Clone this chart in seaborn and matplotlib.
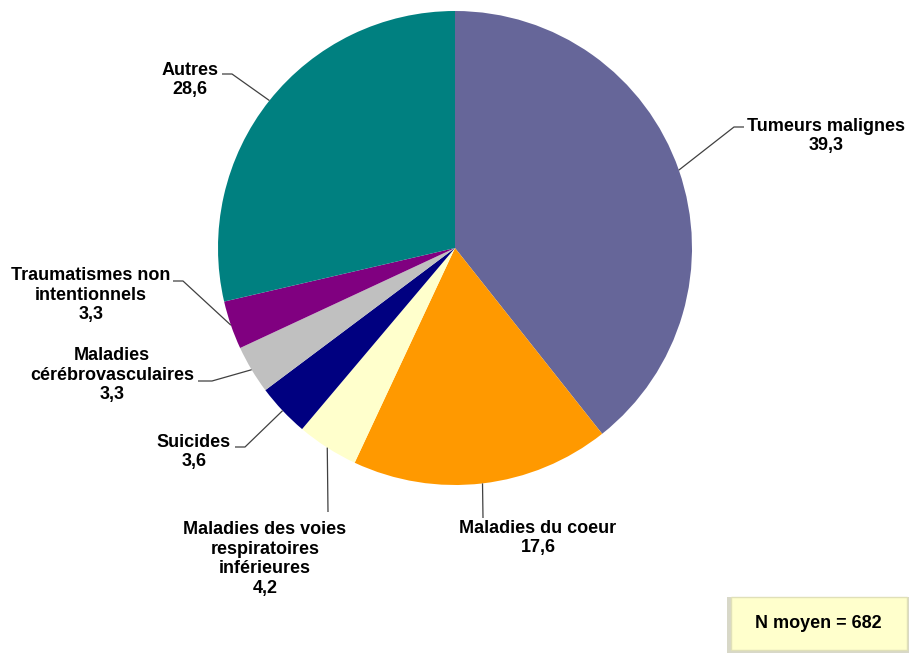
import numpy as np
import matplotlib
matplotlib.use("Agg")
import matplotlib.pyplot as plt
from matplotlib.patches import Rectangle
import seaborn as sns

categories = ["Tumeurs malignes", "Maladies du coeur",
              "Maladies des voies\nrespiratoires\ninférieures", "Suicides",
              "Maladies\ncérébrovasculaires", "Traumatismes non\nintentionnels", "Autres"]
values = [39.3, 17.6, 4.2, 3.6, 3.3, 3.3, 28.6]
value_labels = ["39,3", "17,6", "4,2", "3,6", "3,3", "3,3", "28,6"]
colors = ["#666699", "#FF9900", "#FFFFCC", "#000080", "#C0C0C0", "#800080", "#008080"]
note = "N moyen = 682"

sns.set_theme(style="white")
plt.rcParams["font.family"] = ["Liberation Sans", "DejaVu Sans"]

W, H = 909, 653
fig = plt.figure(figsize=(W / 100, H / 100), dpi=100)
ax = fig.add_axes([0, 0, 1, 1])

cx, cy, R = 455, H - 248, 237
palette = sns.color_palette(colors)
wedges, _ = ax.pie(values, colors=palette, startangle=90, counterclock=False,
                   center=(cx, cy), radius=R, frame=False,
                   wedgeprops=dict(linewidth=0))
ax.set_xlim(0, W)
ax.set_ylim(0, H)
ax.set_aspect("equal")
ax.axis("off")

# label layout (pixel coords from top): text centre, leader-line path (after edge point)
label_pos = [(826, 136), (538, 538), (265, 559), (194, 452), (112, 375), (91, 295), (190, 80)]
line_paths = [
    [(734, 127), (744, 127)],
    [(483, 518)],
    [(328, 512)],
    [(245, 447), (235, 447)],
    [(212, 381), (198, 381)],
    [(183, 281), (173, 281)],
    [(232, 74), (222, 74)],
]

total = sum(values)
cum = 0
for i, v in enumerate(values):
    mid = 90 - (cum + v / 2) / total * 360
    cum += v
    ex = cx + R * np.cos(np.radians(mid))
    ey = cy + R * np.sin(np.radians(mid))
    xs = [ex] + [p[0] for p in line_paths[i]]
    ys = [ey] + [H - p[1] for p in line_paths[i]]
    ax.plot(xs, ys, color="#404040", lw=0.9, solid_capstyle="butt")
    tx, ty = label_pos[i]
    ax.text(tx, H - ty, categories[i] + "\n" + value_labels[i], ha="center", va="center",
            fontsize=13, fontweight="bold", color="black", linespacing=1.22)

# note box
ax.add_patch(Rectangle((727, H - 653), 182, 56, facecolor="#d8d8c8", edgecolor="none", zorder=2))
ax.add_patch(Rectangle((731, H - 650), 176, 53, facecolor="#FFFFCC", edgecolor="#e0e0b8",
                       lw=1, zorder=3))
ax.text(818, H - 624, note, ha="center", va="center", fontsize=13, fontweight="bold",
        color="black", zorder=4)

fig.savefig("out.png", dpi=100)
